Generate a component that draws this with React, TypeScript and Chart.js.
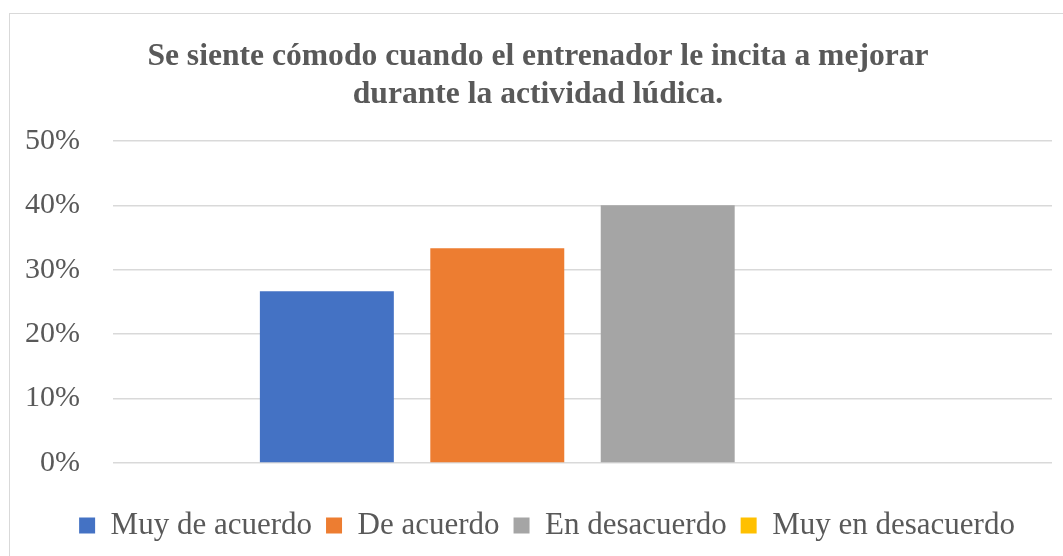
import React, { useEffect, useRef } from "react";
import { Chart, registerables } from "chart.js";

Chart.register(...registerables);

const categories = [""];
const seriesNames = ["Muy de acuerdo", "De acuerdo", "En desacuerdo", "Muy en desacuerdo"];
const seriesValues = [26.67, 33.33, 40, 0];
const seriesColors = ["#4472C4", "#ED7D31", "#A5A5A5", "#FFC000"];
const yTicks = [0, 10, 20, 30, 40, 50];
const titleLines = [
  "Se siente cómodo cuando el entrenador le incita a mejorar",
  "durante la actividad lúdica.",
];

const SERIF = "'Liberation Serif', 'Times New Roman', serif";

const legendShift = {
  id: "legendShift",
  afterLayout(chart: any) {
    const lg = chart.legend;
    if (lg) {
      lg.left += 9;
      lg.right += 9;
    }
  },
};

export default function App() {
  const ref = useRef<HTMLCanvasElement | null>(null);
  useEffect(() => {
    if (!ref.current) return;
    const chart = new Chart(ref.current, {
      type: "bar",
      data: {
        labels: categories,
        datasets: seriesNames.map((name, i) => ({
          label: name,
          data: [seriesValues[i]],
          backgroundColor: seriesColors[i],
          borderWidth: 0,
          categoryPercentage: 0.726,
          barPercentage: 0.786,
        })),
      },
      plugins: [legendShift],
      options: {
        responsive: false,
        animation: false,
        layout: { padding: { left: 24, right: 11, top: 0, bottom: 5 } },
        plugins: {
          tooltip: { enabled: false },
          title: {
            display: true,
            text: titleLines,
            color: "#595959",
            font: { family: SERIF, size: 31.6, weight: "bold", lineHeight: 1.2 },
            padding: { top: 38, bottom: 27 },
          },
          legend: {
            position: "bottom",
            labels: {
              color: "#595959",
              font: { family: SERIF, size: 31 },
              boxWidth: 16,
              boxHeight: 16,
              padding: 14,
            },
          },
        },
        scales: {
          x: {
            display: true,
            grid: { display: false, drawTicks: false },
            border: { display: false },
            ticks: { display: false },
            afterFit: (s: any) => {
              s.height = 33;
            },
          },
          y: {
            min: 0,
            max: 50,
            afterFit: (s: any) => {
              s.width = 89;
            },
            afterBuildTicks: (s: any) => {
              s.ticks = yTicks.map((v) => ({ value: v }));
            },
            border: { display: false },
            grid: { color: "#D9D9D9", lineWidth: 1.5, drawTicks: false },
            ticks: {
              padding: 33,
              color: "#595959",
              font: { family: SERIF, size: 30 },
              callback: (v: any) => v + "%",
            },
          },
        },
      },
    });
    return () => chart.destroy();
  }, []);
  return (
    <div style={{ position: "absolute", left: 0, top: 0, width: 1063, height: 556, overflow: "hidden", background: "#fff" }}>
      <div
        style={{
          position: "absolute",
          left: 9,
          top: 13,
          width: 1060,
          height: 560,
          border: "1.5px solid #D9D9D9",
          boxSizing: "border-box",
        }}
      />
      <canvas ref={ref} width={1063} height={556} style={{ position: "absolute", left: 0, top: 0, width: 1063, height: 556 }} />
    </div>
  );
}
